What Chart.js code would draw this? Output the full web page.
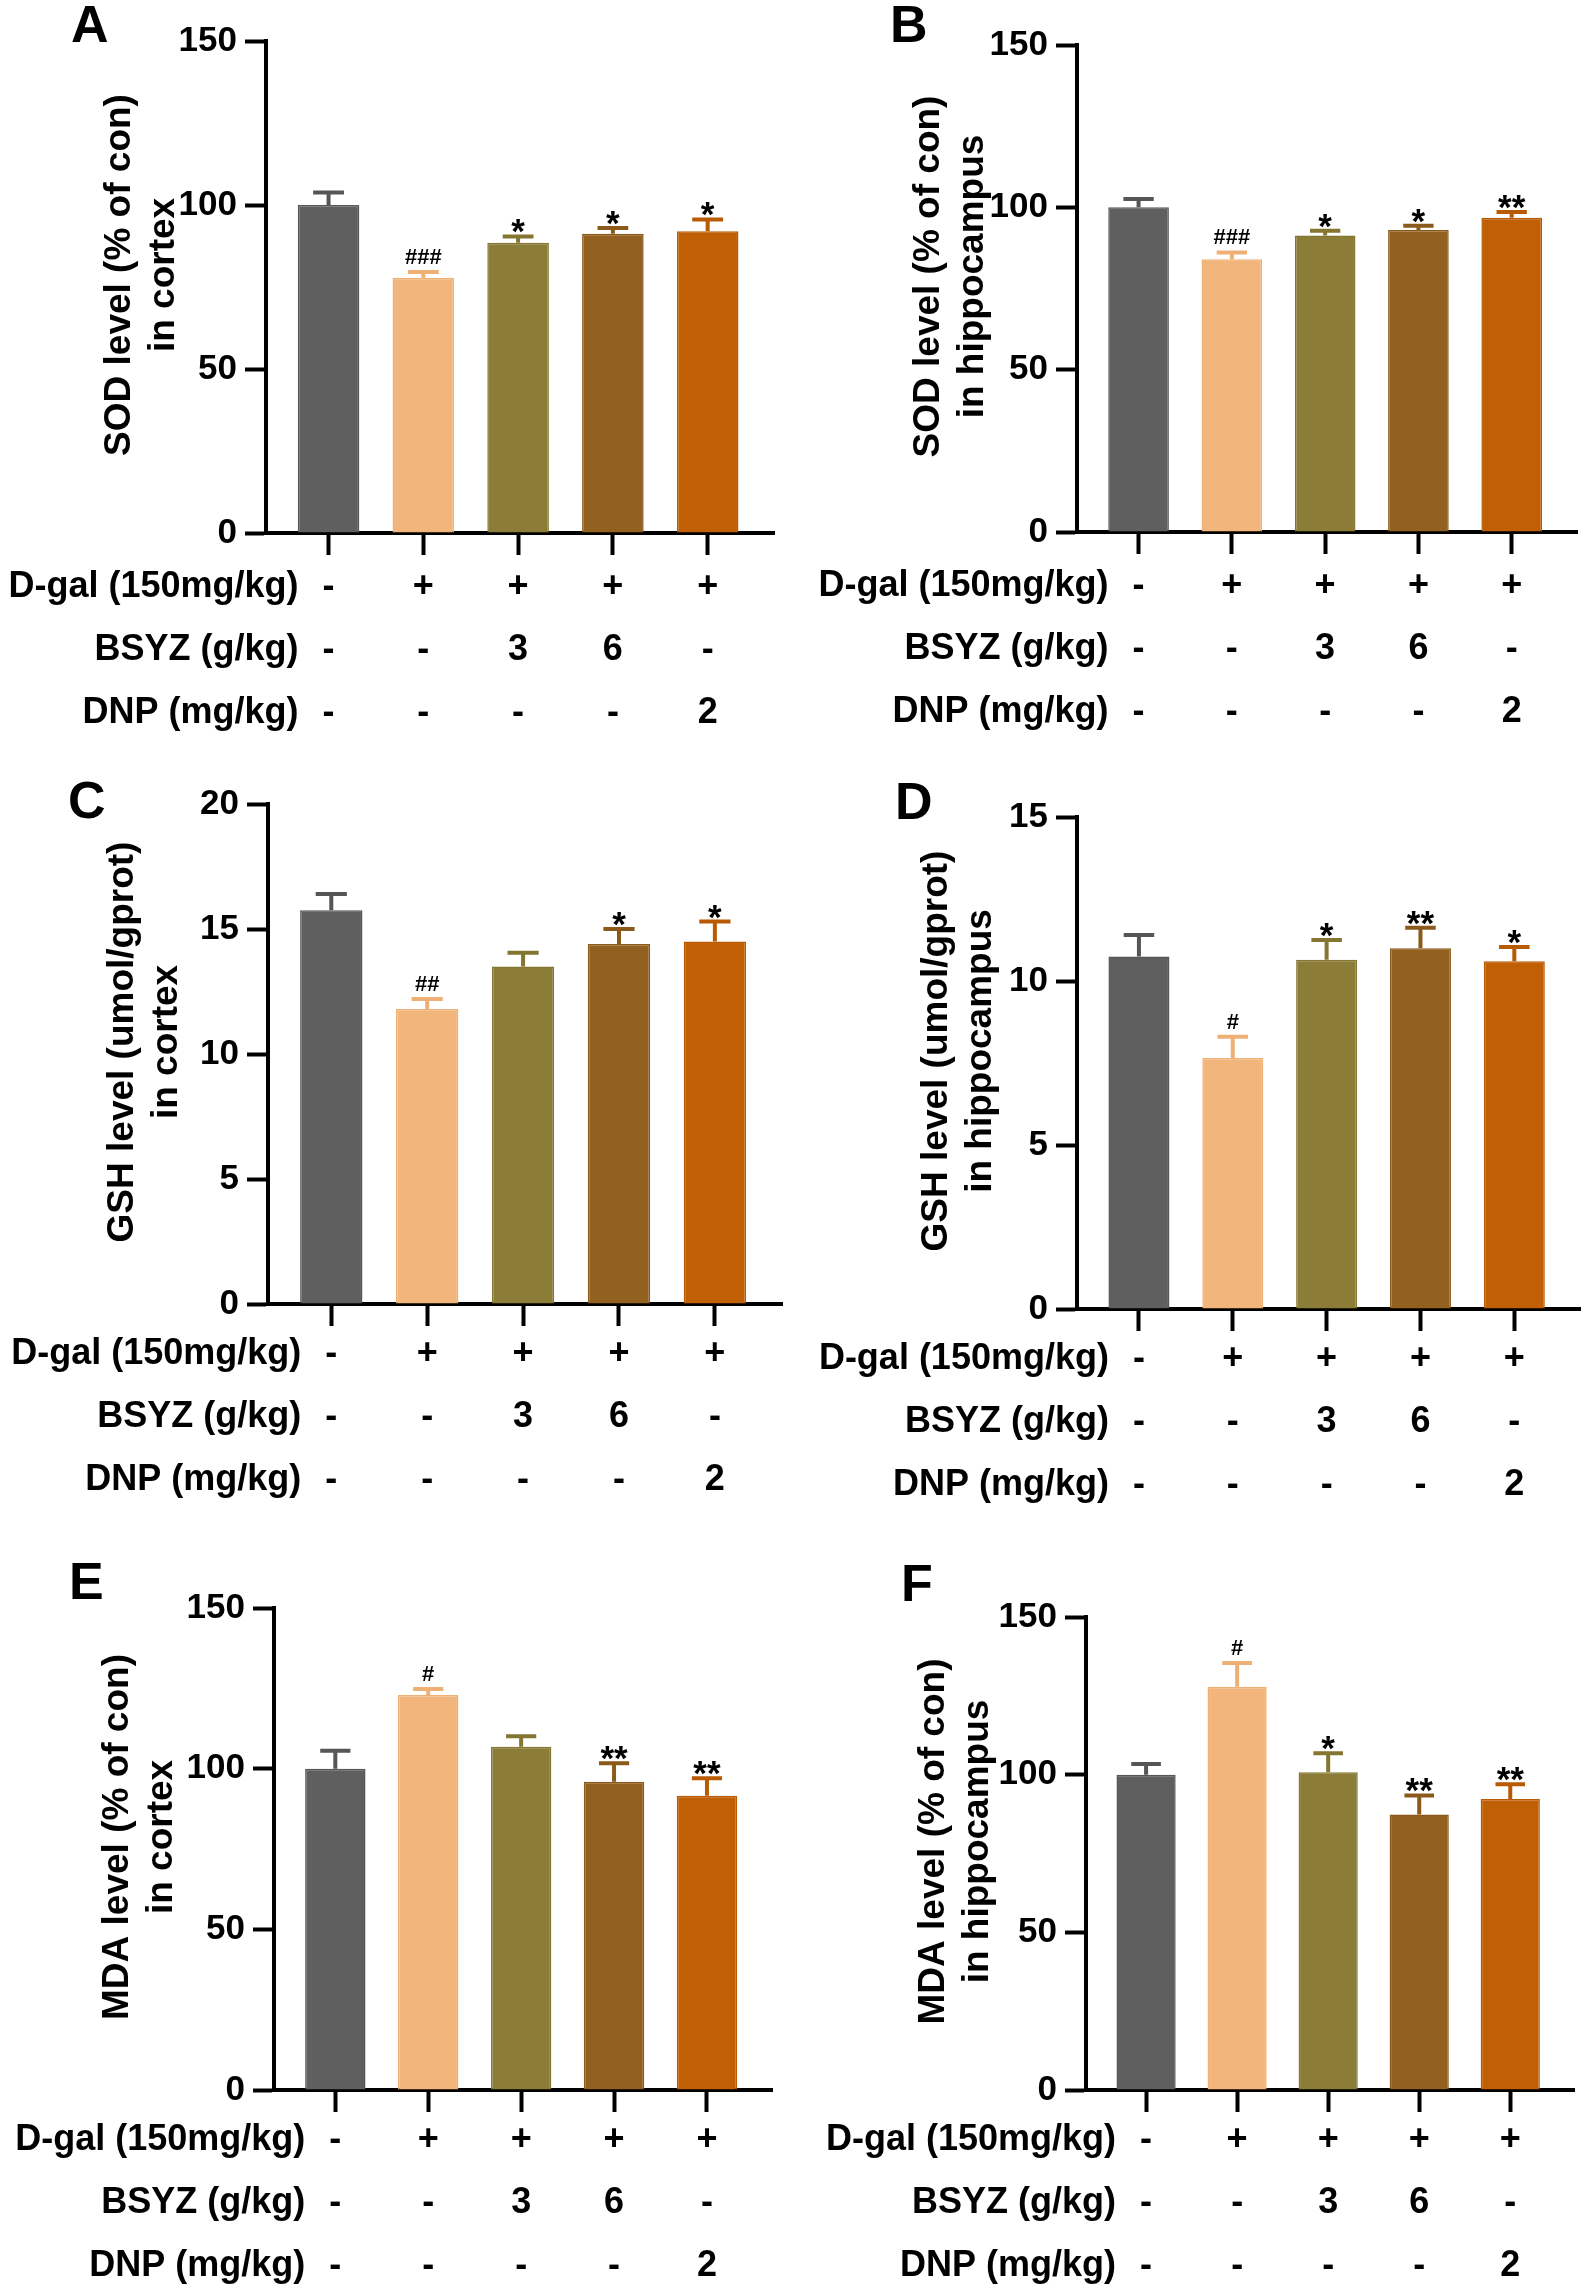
<!DOCTYPE html>
<html>
<head>
<meta charset="utf-8">
<script src="https://cdn.jsdelivr.net/npm/chart.js@4.4.1/dist/chart.umd.min.js"></script>
<style>
  body { margin: 0; background: #fff; }
  #page { position: relative; width: 1591px; height: 2290px; background: #fff; overflow: hidden; }
  .panel { position: absolute; }
  .letter { position: absolute; font: bold 52px "Liberation Sans", Arial, sans-serif; color: #000; line-height: 1; }
</style>
</head>
<body>
<div id="page"></div>
<script>
// treatment table under every panel
const rowTitles = ['D-gal (150mg/kg)', 'BSYZ (g/kg)', 'DNP (mg/kg)'];
const dgalRow = ['-', '+', '+', '+', '+'];
const bsyzRow = ['-', '-', '3', '6', '-'];
const dnpRow = ['-', '-', '-', '-', '2'];

const barColors = ['#5f5f5f', '#f2b67c', '#8b7d37', '#93611f', '#c05f03'];
const edgeColors = ['#565656', '#eeb074', '#847531', '#8b5a1a', '#b85a02'];

// A - SOD cortex
const sodCortex = [100, 77.8, 88.5, 91.2, 92.0];
const sodCortexErr = [3.8, 1.8, 1.9, 1.8, 3.6];
const sodCortexSig = ['', '###', '*', '*', '*'];
// B - SOD hippocampus
const sodHippo = [100, 84.0, 91.3, 93.0, 96.8];
const sodHippoErr = [2.6, 2.1, 1.5, 1.3, 1.8];
const sodHippoSig = ['', '###', '*', '*', '**'];
// C - GSH cortex
const gshCortex = [15.75, 11.8, 13.5, 14.4, 14.5];
const gshCortexErr = [0.65, 0.4, 0.55, 0.6, 0.8];
const gshCortexSig = ['', '##', '', '*', '*'];
// D - GSH hippocampus
const gshHippo = [10.75, 7.65, 10.65, 11.0, 10.6];
const gshHippoErr = [0.65, 0.65, 0.6, 0.62, 0.44];
const gshHippoSig = ['', '#', '*', '**', '*'];
// E - MDA cortex
const mdaCortex = [100, 122.9, 106.8, 95.9, 91.6];
const mdaCortexErr = [5.6, 1.9, 3.3, 5.8, 5.4];
const mdaCortexSig = ['', '#', '', '**', '**'];
// F - MDA hippocampus
const mdaHippo = [100, 127.9, 100.8, 87.4, 92.3];
const mdaHippoErr = [3.4, 7.5, 6.0, 6.0, 4.7];
const mdaHippoSig = ['', '#', '*', '**', '**'];

const FONT = '"Liberation Sans", Arial, sans-serif';
Chart.defaults.font.family = FONT;
Chart.defaults.color = '#000';

// page layout of the six panels
const panels = [
  { letter: 'A', lx: 71, ly: -2, cell: [0, 0, 795, 760], axisX: 266, yTop: 41, yBottom: 533, xRight: 774, titleX: 120, rowShift: 4,
    values: sodCortex, errors: sodCortexErr, marks: sodCortexSig, max: 150, step: 50, title: ['SOD level (% of con)', 'in cortex'] },
  { letter: 'B', lx: 890, ly: -2, cell: [795, 0, 796, 760], axisX: 1077, yTop: 45, yBottom: 532, xRight: 1577, titleX: 929, rowShift: 4,
    values: sodHippo, errors: sodHippoErr, marks: sodHippoSig, max: 150, step: 50, title: ['SOD level (% of con)', 'in hippocampus'] },
  { letter: 'C', lx: 68, ly: 774, cell: [0, 760, 795, 760], axisX: 268, yTop: 804, yBottom: 1304, xRight: 782, titleX: 123, rowShift: 0,
    values: gshCortex, errors: gshCortexErr, marks: gshCortexSig, max: 20, step: 5, title: ['GSH level (umol/gprot)', 'in cortex'] },
  { letter: 'D', lx: 895, ly: 775, cell: [795, 760, 796, 760], axisX: 1077, yTop: 817, yBottom: 1309, xRight: 1580, titleX: 937, rowShift: 0,
    values: gshHippo, errors: gshHippoErr, marks: gshHippoSig, max: 15, step: 5, title: ['GSH level (umol/gprot)', 'in hippocampus'] },
  { letter: 'E', lx: 69, ly: 1555, cell: [0, 1520, 795, 770], axisX: 274, yTop: 1608, yBottom: 2090, xRight: 772, titleX: 118, rowShift: 0,
    values: mdaCortex, errors: mdaCortexErr, marks: mdaCortexSig, max: 150, step: 50, title: ['MDA level (% of con)', 'in cortex'] },
  { letter: 'F', lx: 901, ly: 1557, cell: [795, 1520, 796, 770], axisX: 1086, yTop: 1617, yBottom: 2090, xRight: 1574, titleX: 934, rowShift: 0,
    values: mdaHippo, errors: mdaHippoErr, marks: mdaHippoSig, max: 150, step: 50, title: ['MDA level (% of con)', 'in hippocampus'] }
];

const rowOffsets = [50, 113, 176];

// upward SEM bars plus significance marks
const errorBarPlugin = {
  id: 'errorBars',
  afterDatasetsDraw(chart, args, opts) {
    const { ctx } = chart;
    const yScale = chart.scales.y;
    const meta = chart.getDatasetMeta(0);
    meta.data.forEach((bar, i) => {
      const top = yScale.getPixelForValue(opts.values[i] + opts.errors[i]);
      const half = bar.width / 4;
      ctx.save();
      ctx.strokeStyle = edgeColors[i];
      ctx.lineWidth = 4;
      ctx.beginPath();
      ctx.moveTo(bar.x, bar.y);
      ctx.lineTo(bar.x, top);
      ctx.moveTo(bar.x - half, top);
      ctx.lineTo(bar.x + half, top);
      ctx.stroke();

      const mark = opts.marks[i];
      if (mark) {
        ctx.fillStyle = '#000';
        ctx.textAlign = 'center';
        ctx.textBaseline = 'alphabetic';
        if (mark.includes('#')) {
          ctx.font = 'bold 22px ' + FONT;
          ctx.fillText(mark, bar.x, top - 8);
        } else {
          ctx.font = 'bold 35px ' + FONT;
          ctx.fillText(mark, bar.x, top + 7);
        }
      }
      ctx.restore();
    });
  }
};

// two-line rotated y title
const titlePlugin = {
  id: 'axisTitle',
  afterDraw(chart, args, opts) {
    const { ctx, chartArea } = chart;
    const cy = (chartArea.top + chartArea.bottom) / 2 - 12;
    ctx.save();
    ctx.font = 'bold 37px ' + FONT;
    ctx.fillStyle = '#000';
    ctx.textAlign = 'center';
    ctx.textBaseline = 'middle';
    opts.lines.forEach((t, k) => {
      ctx.save();
      ctx.translate(opts.x + k * 44, cy);
      ctx.rotate(-Math.PI / 2);
      ctx.fillText(t, 0, 0);
      ctx.restore();
    });
    ctx.restore();
  }
};

// dose table drawn on the x scale positions
const tablePlugin = {
  id: 'doseTable',
  afterDraw(chart, args, opts) {
    const { ctx, chartArea } = chart;
    const xs = chart.scales.x;
    const rows = [dgalRow, bsyzRow, dnpRow];
    ctx.save();
    ctx.font = 'bold 36px ' + FONT;
    ctx.fillStyle = '#000';
    ctx.textBaseline = 'middle';
    rows.forEach((row, r) => {
      const y = chartArea.bottom + rowOffsets[r] + opts.shift;
      ctx.textAlign = 'right';
      ctx.fillText(rowTitles[r], xs.getPixelForValue(0) - 30, y);
      ctx.textAlign = 'center';
      row.forEach((s, i) => ctx.fillText(s, xs.getPixelForValue(i), y));
    });
    ctx.restore();
  }
};

const page = document.getElementById('page');

panels.forEach(p => {
  const [cl, ct, cw, ch] = p.cell;
  const wrap = document.createElement('div');
  wrap.className = 'panel';
  wrap.style.left = cl + 'px';
  wrap.style.top = ct + 'px';
  wrap.style.width = cw + 'px';
  wrap.style.height = ch + 'px';
  const canvas = document.createElement('canvas');
  canvas.width = cw;
  canvas.height = ch;
  canvas.style.width = cw + 'px';
  canvas.style.height = ch + 'px';
  wrap.appendChild(canvas);
  page.appendChild(wrap);

  const letter = document.createElement('div');
  letter.className = 'letter';
  letter.textContent = p.letter;
  letter.style.left = p.lx + 'px';
  letter.style.top = p.ly + 'px';
  page.appendChild(letter);

  const xScaleH = 24;

  new Chart(canvas, {
    type: 'bar',
    data: {
      datasets: [{
        data: p.values.map((v, i) => ({ x: i, y: v })),
        backgroundColor: barColors,
        borderColor: edgeColors,
        borderWidth: 1.5,
        categoryPercentage: 1,
        barPercentage: 0.65
      }]
    },
    options: {
      responsive: false,
      animation: false,
      devicePixelRatio: 1,
      layout: {
        padding: {
          left: 0,
          top: p.yTop - ct,
          right: cl + cw - p.xRight,
          bottom: ct + ch - p.yBottom - xScaleH
        }
      },
      plugins: {
        legend: { display: false },
        tooltip: { enabled: false },
        errorBars: { values: p.values, errors: p.errors, marks: p.marks },
        axisTitle: { lines: p.title, x: p.titleX - cl },
        doseTable: { shift: p.rowShift }
      },
      scales: {
        x: {
          type: 'linear',
          min: -0.66,
          max: 4.7,
          offset: false,
          afterBuildTicks: axis => { axis.ticks = [0, 1, 2, 3, 4].map(v => ({ value: v })); },
          afterFit: scale => { scale.height = xScaleH; },
          ticks: { display: false },
          grid: { offset: false, drawOnChartArea: false, drawTicks: true, tickLength: 22, tickWidth: 4, tickColor: '#000' },
          border: { color: '#000', width: 4 }
        },
        y: {
          min: 0,
          max: p.max,
          afterFit: scale => { scale.width = p.axisX - cl; },
          ticks: { stepSize: p.step, padding: 8, color: '#000', font: { size: 35, weight: 'bold' } },
          grid: { drawOnChartArea: false, drawTicks: true, tickLength: 21, tickWidth: 4, tickColor: '#000' },
          border: { color: '#000', width: 4 }
        }
      }
    },
    plugins: [errorBarPlugin, titlePlugin, tablePlugin]
  });
});
</script>
</body>
</html>
